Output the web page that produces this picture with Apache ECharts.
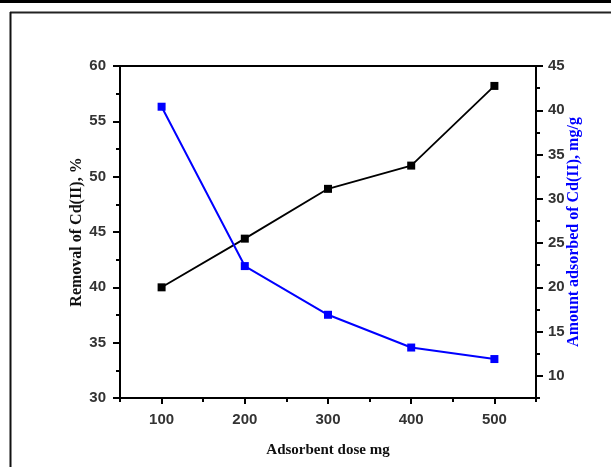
<!DOCTYPE html>
<html><head><meta charset="utf-8">
<script src="https://cdn.jsdelivr.net/npm/echarts@6/dist/echarts.min.js"></script>
<style>html,body{margin:0;padding:0;background:#fff}#c{width:611px;height:467px}</style>
</head><body><div id="c"></div>
<script>
const doses = [100, 200, 300, 400, 500];
const removal = [40.0, 44.4, 48.9, 51.0, 58.2];
const amount = [40.4, 22.4, 16.9, 13.2, 11.9];
const xMajor = [100, 200, 300, 400, 500];
const xMinor = [50, 150, 250, 350, 450, 550];
const rMajor = [10, 15, 20, 25, 30, 35, 40, 45];
const rMinor = [7.5, 12.5, 17.5, 22.5, 27.5, 32.5, 37.5, 42.5];

const chart = echarts.init(document.getElementById('c'));
const lblFont = {color: '#333', fontFamily: 'Liberation Sans', fontWeight: 'bold', fontSize: 15};
const titleFont = {fontFamily: 'Liberation Serif', fontWeight: 'bold', fontSize: 16};
chart.setOption({
  animation: false,
  grid: {left: 120, top: 66, right: 75, bottom: 69, show: true, borderColor: '#000', borderWidth: 2, backgroundColor: 'transparent'},
  graphic: [
    {type: 'rect', shape: {x: 0, y: 0, width: 611, height: 3}, style: {fill: '#000'}},
    {type: 'line', shape: {x1: 10, y1: 12.5, x2: 611, y2: 12.5}, style: {stroke: '#222', lineWidth: 2}},
    {type: 'line', shape: {x1: 10.5, y1: 12, x2: 10.5, y2: 467}, style: {stroke: '#111', lineWidth: 2}}
  ],
  xAxis: [
    {type: 'value', min: 50, max: 550, interval: 50,
     name: 'Adsorbent dose mg', nameLocation: 'middle', nameGap: 45, nameMoveOverlap: false,
     nameTextStyle: {color: '#111', fontSize: 15, fontFamily: 'Liberation Serif', fontWeight: 'bold'},
     axisLine: {lineStyle: {color: '#000', width: 2}},
     axisTick: {show: true, length: 6, customValues: xMajor, lineStyle: {color: '#000', width: 2}},
     axisLabel: Object.assign({customValues: xMajor, margin: 14}, lblFont),
     splitLine: {show: false}},
    {type: 'value', min: 50, max: 550, position: 'bottom',
     axisLine: {show: false},
     axisTick: {show: true, length: 4, customValues: xMinor, lineStyle: {color: '#000', width: 2}},
     axisLabel: {show: false}, splitLine: {show: false}}
  ],
  yAxis: [
    {type: 'value', min: 30, max: 60, interval: 5, position: 'left',
     name: 'Removal of Cd(II), %', nameLocation: 'middle', nameGap: 35, nameRotate: 90, nameMoveOverlap: false,
     nameTextStyle: Object.assign({color: '#111'}, titleFont),
     axisLine: {show: true, lineStyle: {color: '#000', width: 2}},
     axisTick: {show: true, length: 7, lineStyle: {color: '#000', width: 2}},
     minorTick: {show: true, splitNumber: 2, length: 4, lineStyle: {color: '#000', width: 2}},
     axisLabel: Object.assign({margin: 14}, lblFont),
     splitLine: {show: false}},
    {type: 'value', min: 7.5, max: 45, position: 'right',
     name: 'Amount adsorbed of Cd(II), mg/g', nameLocation: 'middle', nameGap: 30, nameRotate: 90, nameMoveOverlap: false,
     nameTextStyle: Object.assign({color: '#0000ff'}, titleFont),
     axisLine: {show: true, lineStyle: {color: '#000', width: 2}},
     axisTick: {show: true, length: 7, customValues: rMajor, lineStyle: {color: '#000', width: 2}},
     axisLabel: Object.assign({customValues: rMajor, margin: 12}, lblFont),
     splitLine: {show: false}},
    {type: 'value', min: 7.5, max: 45, position: 'right',
     axisLine: {show: false},
     axisTick: {show: true, length: 4, customValues: rMinor, lineStyle: {color: '#000', width: 2}},
     axisLabel: {show: false}, splitLine: {show: false}}
  ],
  series: [
    {type: 'line', xAxisIndex: 0, yAxisIndex: 0, data: doses.map((d, i) => [d, removal[i]]),
     symbol: 'rect', symbolSize: 8, lineStyle: {color: '#000', width: 1.8}, itemStyle: {color: '#000'}},
    {type: 'line', xAxisIndex: 0, yAxisIndex: 1, data: doses.map((d, i) => [d, amount[i]]),
     symbol: 'rect', symbolSize: 8, lineStyle: {color: '#0000ff', width: 2}, itemStyle: {color: '#0000ff'}}
  ]
});
</script></body></html>
